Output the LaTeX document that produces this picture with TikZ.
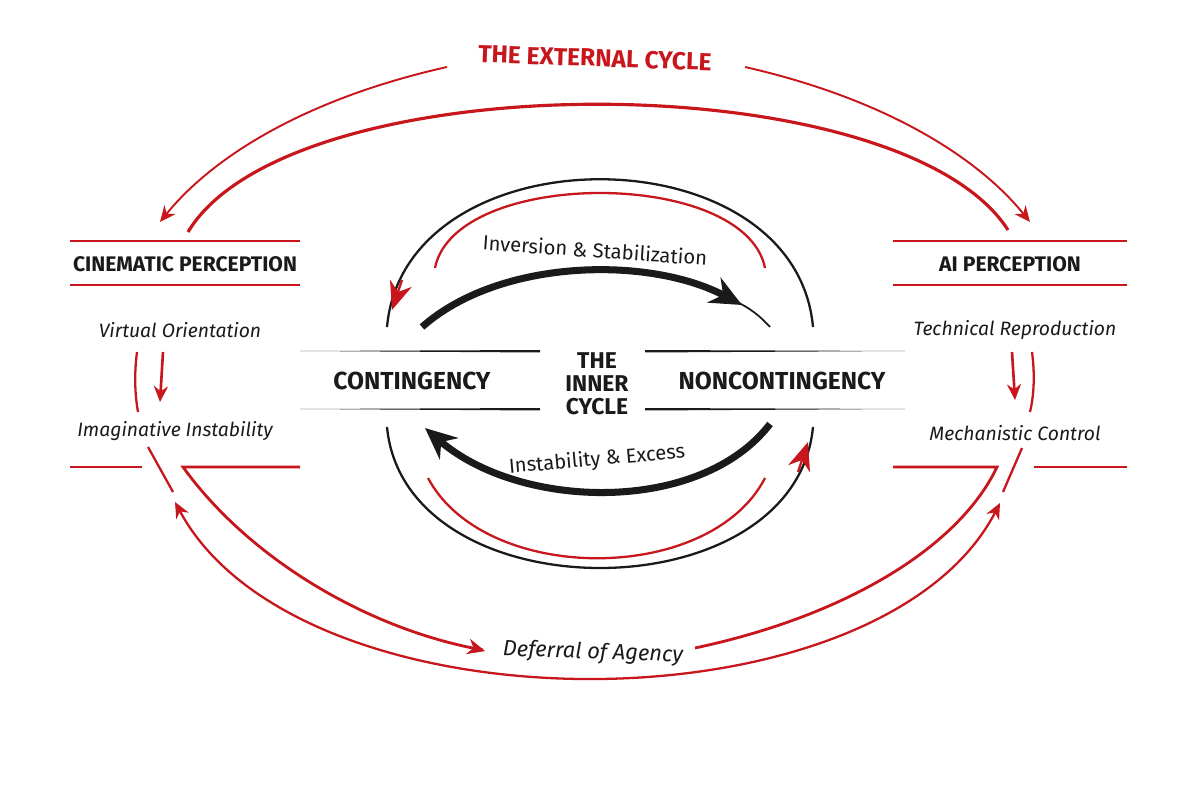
\documentclass[tikz,border=0pt]{standalone}
\usepackage{fontspec}
\setmainfont{Fira Sans}
\usetikzlibrary{arrows.meta}
\definecolor{rd}{HTML}{C8161D}
\definecolor{bk}{HTML}{1A1A1A}
\begin{document}
\begin{tikzpicture}[x=0.02cm,y=-0.02cm,
  rl/.style={rd,line width=1.3pt},
  bl/.style={bk,line width=1.3pt},
  ra/.style={rd,line width=1.1pt,-{Stealth[length=9pt,width=8pt]}},
  head/.style={font=\bfseries\fontsize{12}{14}\selectfont,text=bk},
  big/.style={font=\bfseries\fontsize{14}{15}\selectfont,text=bk},
  lab/.style={font=\itshape\fontsize{11}{12}\selectfont,text=bk}]
\useasboundingbox[fill=white] (0,0) rectangle (1200,800);
% title
\node[font=\bfseries\fontsize{14}{15}\selectfont,text=rd,rotate=-2] (title) at (595,58) {THE EXTERNAL CYCLE};
% external top arcs
\coordinate (tl) at (447,67); \coordinate (tr) at (745,67);
\coordinate (cpA) at (160,222); \coordinate (aiA) at (1030,222);
\draw[ra] (tl) .. controls (300,100) and (210,160) .. (cpA);
\draw[ra] (tr) .. controls (890,100) and (980,160) .. (aiA);
\coordinate (il) at (188,232); \coordinate (ir) at (1008,230);
\draw[rl,line width=1.8pt] (il) .. controls (290,62) and (900,62) .. (ir);
% left block
\draw[rl] (70,241) -- (300,241);
\draw[rl] (70,285) -- (300,285);
\node[head] (cp) at (185,264) {CINEMATIC PERCEPTION};
\node[lab] (vo) at (180,330) {Virtual Orientation};
\node[lab] (ii) at (175,431) {Imaginative Instability};
\draw[ra,line width=1.5pt] (163,352) -- (160,402);
\draw[rl] (137,352) .. controls (134,375) and (135,395) .. (138,412);
\draw[rl] (70,467) -- (142,467);
\draw[rl] (148,447) -- (173,492);
% right block
\draw[rl] (893,241) -- (1127,241);
\draw[rl] (893,285) -- (1127,285);
\node[head] (ai) at (1010,264) {AI PERCEPTION};
\node[lab] (tr2) at (1015,330) {Technical Reproduction};
\node[lab] (mc) at (1015,433) {Mechanistic Control};
\draw[ra,line width=1.5pt] (1012,352) -- (1015,400);
\draw[rl] (1032,352) .. controls (1035,375) and (1034,395) .. (1030,412);
\draw[rl] (1034,467) -- (1127,467);
\draw[rl] (1022,448) -- (1003,492);
% bottom external arcs
\coordinate (bL) at (175,502); \coordinate (bR) at (1000,503);
\draw[rd,line width=1.3pt,{Stealth[length=9pt,width=8pt]}-{Stealth[length=9pt,width=8pt]}] (bL) .. controls (300,735) and (880,735) .. (bR);
\coordinate (c1) at (183,467); \coordinate (c2) at (997,467);
\draw[rl,line width=1.6pt] (300,467) -- (c1) .. controls (250,560) and (370,630) .. (483,650);
\draw[rd,-{Stealth[length=10pt,width=9pt]}] (470,647) -- (485,651);
\draw[rl,line width=1.6pt] (695,648) .. controls (850,615) and (960,545) .. (c2) -- (893,467);
\node[lab,font=\itshape\fontsize{12.5}{14}\selectfont,rotate=-2] (da) at (593,653) {Deferral of Agency};
% center band
\fill[bk] (300,351) -- (540,350) -- (540,352.5) -- cycle;
\fill[bk] (300,409) -- (540,408) -- (540,410.5) -- cycle;
\fill[bk] (905,351) -- (645,350) -- (645,352.5) -- cycle;
\fill[bk] (905,409) -- (645,408) -- (645,410.5) -- cycle;
\node[big] (cont) at (412,381) {CONTINGENCY};
\node[big] (ncont) at (782,381) {NONCONTINGENCY};
\node[big,align=center,font=\bfseries\fontsize{13}{13}\selectfont] (inner) at (597,384) {THE\\INNER\\CYCLE};
% inner cycle arcs
\coordinate (ol) at (387,327); \coordinate (or) at (813,327);
\coordinate (ul) at (387,427); \coordinate (ur) at (813,427);
\draw[bl] (ol) .. controls (405,130) and (795,130) .. (or);
\draw[bl] (ul) .. controls (405,615) and (795,615) .. (ur);
\draw[rl] (435,268) .. controls (455,168) and (745,168) .. (765,268);
\draw[rl] (428,478) .. controls (485,585) and (710,585) .. (765,478);
\draw[rd,line width=1.3pt,-{Stealth[length=16pt,width=13pt]}] (402,280) -- (392,310);
\draw[rd,line width=1.3pt,-{Stealth[length=16pt,width=13pt]}] (798,472) -- (808,442);
% thick arrows
\draw[bk,line width=4pt,-{Stealth[length=18pt,width=16pt]}] (422,327) .. controls (500,258) and (650,256) .. (742,305);
\draw[bk,line width=1pt] (735,301) .. controls (750,308) and (760,316) .. (770,327);
\draw[bk,line width=4pt,-{Stealth[length=18pt,width=16pt]}] (770,424) .. controls (700,515) and (520,510) .. (425,428);
\node[lab,font=\fontsize{11.5}{13}\selectfont,rotate=-4] (is) at (595,250) {Inversion \& Stabilization};
\node[lab,font=\fontsize{11.5}{13}\selectfont,rotate=5] (ie) at (597,460) {Instability \& Excess};
\end{tikzpicture}
\end{document}
